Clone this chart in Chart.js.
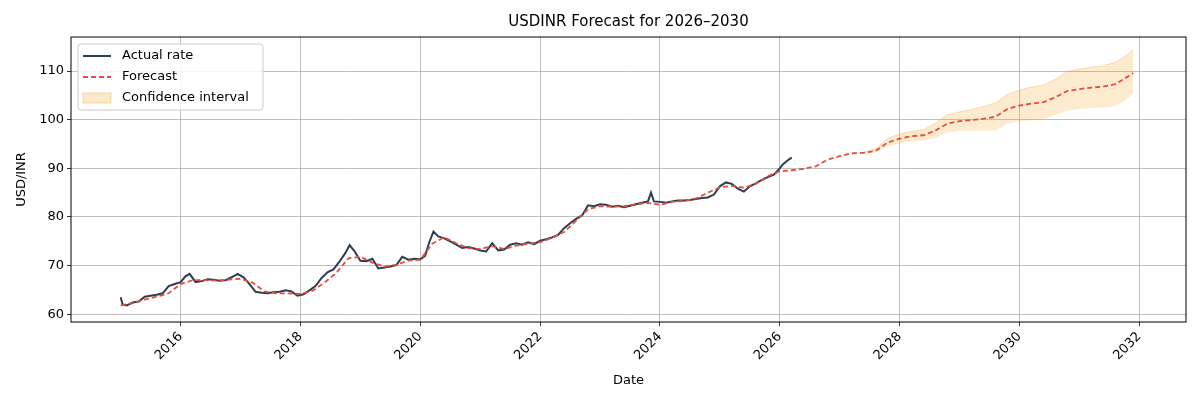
<!DOCTYPE html>
<html><head><meta charset="utf-8">
<script src="https://cdn.jsdelivr.net/npm/chart.js@4"></script>
<style>body{margin:0;background:#fff}#wrap{width:1200px;height:400px}</style>
</head><body><div id="wrap"><canvas id="c" width="1200" height="400"></canvas></div>
<script>
// actual rate (decimal year, value)
const actualYears = [2015.0,2015.03,2015.1,2015.2,2015.3,2015.4,2015.5,2015.6,2015.7,2015.8,2015.9,2016.0,2016.08,2016.15,2016.25,2016.35,2016.45,2016.55,2016.65,2016.75,2016.85,2016.95,2017.05,2017.15,2017.25,2017.35,2017.45,2017.55,2017.65,2017.75,2017.85,2017.95,2018.05,2018.15,2018.25,2018.35,2018.45,2018.55,2018.65,2018.75,2018.82,2018.9,2019.0,2019.1,2019.2,2019.3,2019.4,2019.5,2019.6,2019.7,2019.8,2019.9,2020.0,2020.08,2020.15,2020.22,2020.3,2020.4,2020.5,2020.6,2020.7,2020.8,2020.9,2021.0,2021.1,2021.2,2021.3,2021.4,2021.5,2021.6,2021.7,2021.8,2021.9,2022.0,2022.1,2022.2,2022.3,2022.4,2022.5,2022.6,2022.7,2022.8,2022.9,2023.0,2023.1,2023.2,2023.3,2023.4,2023.5,2023.6,2023.7,2023.8,2023.85,2023.9,2024.0,2024.1,2024.2,2024.3,2024.4,2024.5,2024.6,2024.7,2024.8,2024.9,2025.0,2025.1,2025.2,2025.3,2025.4,2025.5,2025.6,2025.7,2025.8,2025.9,2026.0,2026.05,2026.1,2026.15,2026.2];
const actualRate = [63.5,62.0,61.8,62.4,62.6,63.6,63.8,64.0,64.3,65.8,66.2,66.6,67.8,68.3,66.6,66.8,67.2,67.1,66.9,67.0,67.6,68.3,67.6,66.2,64.6,64.4,64.3,64.5,64.6,64.9,64.7,63.8,64.1,64.9,65.8,67.4,68.6,69.2,70.8,72.6,74.2,73.0,71.0,70.9,71.4,69.4,69.6,69.8,70.1,71.8,71.2,71.4,71.3,72.0,74.8,77.0,76.0,75.6,75.0,74.3,73.6,73.8,73.5,73.1,72.9,74.6,73.1,73.3,74.3,74.6,74.3,74.8,74.4,75.1,75.4,75.8,76.3,77.7,78.7,79.6,80.3,82.4,82.2,82.6,82.5,82.1,82.3,82.0,82.3,82.6,82.9,83.2,85.0,83.2,83.1,82.9,83.2,83.4,83.4,83.5,83.7,83.9,84.0,84.6,86.3,87.1,86.8,85.8,85.2,86.3,86.9,87.6,88.2,88.7,90.0,90.8,91.3,91.8,92.2];
// forecast (fitted + projected)
const forecastYears = [2015.0,2015.2,2015.4,2015.6,2015.8,2016.0,2016.2,2016.4,2016.6,2016.8,2017.0,2017.2,2017.4,2017.6,2017.8,2018.0,2018.2,2018.4,2018.6,2018.8,2019.0,2019.2,2019.4,2019.6,2019.8,2020.0,2020.2,2020.4,2020.6,2020.8,2021.0,2021.2,2021.4,2021.6,2021.8,2022.0,2022.2,2022.4,2022.6,2022.8,2023.0,2023.2,2023.4,2023.6,2023.8,2024.0,2024.2,2024.4,2024.6,2024.8,2025.0,2025.2,2025.4,2025.6,2025.8,2026.0,2026.2,2026.4,2026.6,2026.8,2027.0,2027.2,2027.4,2027.6,2027.8,2028.0,2028.2,2028.4,2028.6,2028.8,2029.0,2029.2,2029.4,2029.6,2029.8,2030.0,2030.2,2030.4,2030.6,2030.8,2031.0,2031.2,2031.4,2031.6,2031.8,2031.9];
const forecastRate = [61.8,62.3,63.0,63.6,64.3,66.2,67.0,67.0,66.9,67.1,67.3,66.5,64.7,64.3,64.3,64.2,64.8,66.5,68.5,71.5,71.8,70.6,69.8,70.2,71.0,71.2,74.5,75.8,74.6,73.6,73.4,74.0,73.4,74.1,74.5,74.8,75.7,76.9,79.2,81.6,82.2,82.1,82.2,82.6,82.9,82.5,83.1,83.3,83.8,85.0,86.1,86.4,86.0,86.8,88.4,89.4,89.6,89.9,90.4,91.8,92.5,93.1,93.2,93.6,95.3,96.1,96.6,96.8,97.8,99.2,99.7,99.9,100.2,100.6,102.2,102.9,103.3,103.6,104.6,105.9,106.3,106.6,106.8,107.3,108.8,109.6];
// confidence interval
const ciYears = [2027.4,2027.6,2027.8,2028.0,2028.2,2028.4,2028.6,2028.8,2029.0,2029.2,2029.4,2029.6,2029.8,2030.0,2030.2,2030.4,2030.6,2030.8,2031.0,2031.2,2031.4,2031.6,2031.8,2031.9];
const ciLower = [93.1,93.3,94.5,95.1,95.6,95.7,96.3,97.4,97.8,97.7,97.7,97.8,99.2,99.7,99.9,100.1,100.9,101.9,102.2,102.4,102.5,102.8,104.3,105.4];
const ciUpper = [93.3,94.0,96.1,97.1,97.6,97.9,99.3,101.0,101.6,102.1,102.7,103.4,105.2,106.1,106.7,107.1,108.3,109.9,110.4,110.8,111.1,111.8,113.3,114.4];
const yTicks = [60,70,80,90,100,110];
const xTicks = [2016,2018,2020,2022,2024,2026,2028,2030,2032];

const pts = (xs, ys) => xs.map((x, i) => ({x, y: ys[i]}));
const F = 'DejaVu Sans';

const frame = {
  id: 'frame',
  afterDraw(chart) {
    const {ctx, chartArea: a} = chart;
    ctx.save();
    ctx.strokeStyle = '#000'; ctx.lineWidth = 1;
    ctx.strokeRect(a.left, a.top, a.right - a.left, a.bottom - a.top);
    ctx.fillStyle = '#000'; ctx.font = '15px ' + F; ctx.textAlign = 'center'; ctx.textBaseline = 'middle';
    ctx.fillText('USDINR Forecast for 2026\u20132030', (a.left + a.right) / 2, 22);
    // legend
    const lx = a.left + 7, ly = a.top + 7;
    ctx.fillStyle = 'rgba(255,255,255,0.85)'; ctx.strokeStyle = '#ccc';
    ctx.beginPath(); ctx.roundRect(lx, ly, 185, 66, 3); ctx.fill(); ctx.stroke();
    ctx.font = '13px ' + F; ctx.textAlign = 'left'; ctx.fillStyle = '#000';
    const rows = ['Actual rate', 'Forecast', 'Confidence interval'];
    rows.forEach((t, i) => {
      const y = ly + 12 + i * 21;
      if (i === 0) { ctx.strokeStyle = '#2c3e50'; ctx.lineWidth = 2; ctx.setLineDash([]); ctx.beginPath(); ctx.moveTo(lx + 5, y); ctx.lineTo(lx + 33, y); ctx.stroke(); }
      if (i === 1) { ctx.strokeStyle = '#e74c3c'; ctx.lineWidth = 2; ctx.setLineDash([5, 3]); ctx.beginPath(); ctx.moveTo(lx + 5, y); ctx.lineTo(lx + 33, y); ctx.stroke(); ctx.setLineDash([]); }
      if (i === 2) { ctx.fillStyle = 'rgba(243,156,18,0.22)'; ctx.strokeStyle = 'rgba(243,156,18,0.35)'; ctx.lineWidth = 1; ctx.fillRect(lx + 5, y - 5, 28, 10); ctx.strokeRect(lx + 5, y - 5, 28, 10); }
      ctx.fillStyle = '#000'; ctx.fillText(t, lx + 44, y);
    });
    ctx.restore();
  }
};

new Chart(document.getElementById('c'), {
  type: 'line',
  data: {
    datasets: [
      {label: 'ciLower', data: pts(ciYears, ciLower), borderWidth: 0, pointRadius: 0, fill: false, order: 3},
      {label: 'Confidence interval', data: pts(ciYears, ciUpper), borderColor: 'rgba(243,156,18,0.3)', borderWidth: 1,
       backgroundColor: 'rgba(243,156,18,0.2)', pointRadius: 0, fill: '-1', order: 3},
      {label: 'Actual rate', data: pts(actualYears, actualRate), borderColor: '#2c3e50', borderWidth: 2, pointRadius: 0, order: 2},
      {label: 'Forecast', data: pts(forecastYears, forecastRate), borderColor: '#e74c3c', borderWidth: 1.8, borderDash: [5, 3], pointRadius: 0, order: 1}
    ]
  },
  options: {
    responsive: false, animation: false,
    layout: {padding: {top: 37, right: 14, left: 0, bottom: 0}},
    plugins: {legend: {display: false}, tooltip: {enabled: false}},
    scales: {
      x: {type: 'linear', min: 2014.17, max: 2032.78,
        afterBuildTicks: s => { s.ticks = xTicks.map(v => ({value: v})); },
        afterFit: s => { s.height = 78; },
        grid: {color: '#b0b0b0', lineWidth: 0.8, tickLength: 4, tickColor: '#000'},
        border: {display: false},
        ticks: {color: '#000', font: {family: F, size: 13}, maxRotation: 45, minRotation: 45, callback: v => String(v)},
        title: {display: true, text: 'Date', color: '#000', font: {family: F, size: 13}, padding: {top: 0, bottom: 12}}
      },
      y: {min: 58.4, max: 117.0,
        afterBuildTicks: s => { s.ticks = yTicks.map(v => ({value: v})); },
        afterFit: s => { s.width = 71; },
        grid: {color: '#b0b0b0', lineWidth: 0.8, tickLength: 4, tickColor: '#000'},
        border: {display: false},
        ticks: {color: '#000', font: {family: F, size: 13}},
        title: {display: true, text: 'USD/INR', color: '#000', font: {family: F, size: 13}, padding: {top: 14, bottom: 0}}
      }
    }
  },
  plugins: [frame]
});
</script></body></html>
